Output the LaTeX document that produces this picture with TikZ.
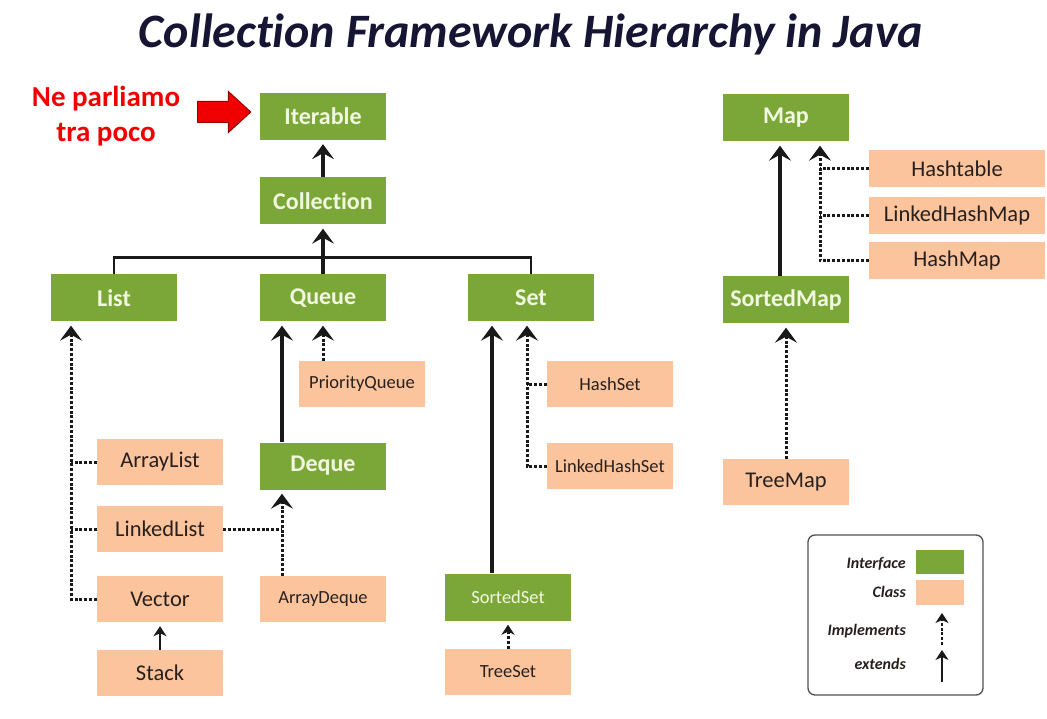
\documentclass[tikz,border=0pt]{standalone}
\usepackage{fontspec}
\setmainfont{Carlito}[Ligatures=NoCommon]
\usetikzlibrary{arrows.meta, calc, shapes.arrows}
\definecolor{ifgreen}{RGB}{123,167,56}
\definecolor{iftext}{RGB}{242,248,224}
\definecolor{clorange}{RGB}{251,196,156}
\definecolor{cltext}{RGB}{40,32,30}
\definecolor{titlenavy}{RGB}{22,22,52}
\definecolor{linkblack}{RGB}{25,25,25}
\definecolor{notered}{RGB}{240,0,0}
\definecolor{notedark}{RGB}{150,0,0}
\definecolor{legendgray}{RGB}{80,80,80}

\tikzset{
  iface/.style={fill=ifgreen, text=iftext, font=\fontsize{24}{26}\selectfont\bfseries, minimum width=126pt, minimum height=47pt, inner sep=0pt},
  ifacesmall/.style={iface, font=\fontsize{18.5}{20}\selectfont},
  cls/.style={fill=clorange, text=cltext, font=\fontsize{22.5}{25}\selectfont, minimum width=126pt, minimum height=46pt, inner sep=0pt},
  clssmall/.style={cls, font=\fontsize{18.5}{20}\selectfont},
  clsmap/.style={cls, minimum width=176pt, minimum height=37pt},
  extends/.style={-{Stealth[length=15pt,width=22pt,inset=6pt]}, line width=3.2pt, draw=linkblack, shorten >=4pt},
  implements/.style={extends, dash pattern=on 3pt off 1.8pt, line width=3pt},
  bus/.style={line width=2.8pt, draw=linkblack},
  stub/.style={line width=3pt, draw=linkblack, dash pattern=on 3pt off 1.8pt},
  legendtext/.style={font=\fontsize{16}{18}\selectfont\bfseries\itshape, text=cltext, inner sep=0pt},
}

\begin{document}
\begin{tikzpicture}[x=1pt, y=-1pt]
  \useasboundingbox (0,0) rectangle (1047,719);

  % Title
  \node[font=\fontsize{48}{52}\selectfont\bfseries\itshape, text=titlenavy, anchor=base, inner sep=0pt] (title) at (531,48) {Collection Framework Hierarchy in Java};

  % Note
  \node[font=\fontsize{29}{35}\selectfont\bfseries, text=notered, align=center, inner sep=0pt] (hinttext) at (106,116) {Ne parliamo\\tra poco};
  \node[single arrow, fill=notered, draw=notedark, line width=1pt, minimum height=53pt, inner xsep=0pt, inner ysep=10pt, single arrow head extend=10pt, single arrow tip angle=85] (hint) at (218.5,112) {};

  % Interfaces
  \node[iface] (iterable) at (323,116.5) {Iterable};
  \node[iface] (collection) at (323,201) {Collection};
  \node[iface] (list) at (114,298) {List};
  \node[iface] (queue) at (323,298) {Queue};
  \node[iface] (set) at (531,298) {Set};
  \node[iface] (deque) at (323,466) {Deque};
  \node[ifacesmall] (sortedset) at (508,597) {SortedSet};
  \node[iface] (map) at (786,118) {Map};
  \node[iface] (sortedmap) at (786,300) {SortedMap};

  % Classes
  \node[cls] (arraylist) at (160,462) {ArrayList};
  \node[cls] (linkedlist) at (160,529) {LinkedList};
  \node[cls] (vector) at (160,599) {Vector};
  \node[cls] (stack) at (160,673) {Stack};
  \node[clssmall] (priorityqueue) at (362,384) {PriorityQueue};
  \node[clssmall] (arraydeque) at (323,599) {ArrayDeque};
  \node[clssmall] (hashset) at (610,384) {HashSet};
  \node[clssmall] (linkedhashset) at (610,466) {LinkedHashSet};
  \node[clssmall] (treeset) at (508,672) {TreeSet};
  \node[clsmap] (hashtable) at (957,169) {Hashtable};
  \node[clsmap] (linkedhashmap) at (957,216) {LinkedHashMap};
  \node[clsmap] (hashmap) at (957,261) {HashMap};
  \node[cls] (treemap) at (786,482) {TreeMap};

  % Collection tree
  \draw[extends] (collection.north) -- (iterable.south);
  \draw[extends] (queue.north) -- (collection.south);
  \draw[bus] (list.north) -- ++(0,-17) -| (set.north);

  % List
  \coordinate (listline) at ($(list.south)+(-43,0)$);
  \draw[implements] (vector.west) -| (listline);
  \draw[stub] (arraylist.west) -- (arraylist.west -| listline);
  \draw[stub] (linkedlist.west) -- (linkedlist.west -| listline);
  \draw[extends, line width=2.6pt, -{Stealth[length=10pt,width=13pt,inset=3pt]}] (stack.north) -- (vector.south);

  % Queue
  \coordinate (queueline) at ($(queue.south)+(-41,0)$);
  \draw[extends] (deque.north -| queueline) -- (queueline);
  \draw[implements] (priorityqueue.north -| queue.south) -- (queue.south);
  \coordinate (dequeline) at ($(deque.south)+(-41,0)$);
  \draw[implements] (arraydeque.north -| dequeline) -- (dequeline);
  \draw[stub] (linkedlist.east) -- (linkedlist.east -| dequeline);

  % Set
  \coordinate (setline) at ($(set.south)+(-39,0)$);
  \draw[extends] (sortedset.north -| setline) -- (setline);
  \coordinate (setimpl) at ($(set.south)+(-4,0)$);
  \draw[implements] (linkedhashset.west) -| (setimpl);
  \draw[stub] (hashset.west) -- (hashset.west -| setimpl);
  \draw[implements, -{Stealth[length=10pt,width=13pt,inset=3pt]}] (treeset.north) -- (sortedset.south);

  % Map
  \coordinate (mapline) at ($(map.south)+(-6,0)$);
  \draw[extends] (sortedmap.north -| mapline) -- (mapline);
  \coordinate (mapimpl) at ($(map.south)+(34,0)$);
  \draw[implements] (hashmap.west) -| (mapimpl);
  \draw[stub] (hashtable.west) -- (hashtable.west -| mapimpl);
  \draw[stub] (linkedhashmap.west) -- (linkedhashmap.west -| mapimpl);
  \draw[implements] (treemap.north) -- (sortedmap.south);

  % Legend
  \node[draw=legendgray, line width=1.3pt, rounded corners=7pt, minimum width=175pt, minimum height=160pt] (legend) at (895.5,615) {};
  \node[legendtext, anchor=base east] (lginterface) at (906,568) {Interface};
  \node[fill=ifgreen, minimum width=48pt, minimum height=24pt, inner sep=0pt] (lgifacebox) at (940,562) {};
  \node[legendtext, anchor=base east] (lgclass) at (906,597) {Class};
  \node[fill=clorange, minimum width=48pt, minimum height=25pt, inner sep=0pt] (lgclassbox) at (940,592.5) {};
  \node[legendtext, anchor=base east] (lgimplements) at (906,635) {Implements};
  \coordinate (lgimpltail) at (942,645);
  \coordinate (lgimpltip) at (942,613);
  \draw[implements, line width=2.2pt, shorten >=0pt, -{Stealth[length=10pt,width=13pt,inset=3pt]}] (lgimpltail) -- (lgimpltip);
  \node[legendtext, anchor=base east] (lgextends) at (906,669) {extends};
  \coordinate (lgexttail) at (942,682);
  \coordinate (lgexttip) at (942,650);
  \draw[extends, line width=2.4pt, shorten >=0pt, -{Stealth[length=10pt,width=13pt,inset=3pt]}] (lgexttail) -- (lgexttip);
\end{tikzpicture}
\end{document}
